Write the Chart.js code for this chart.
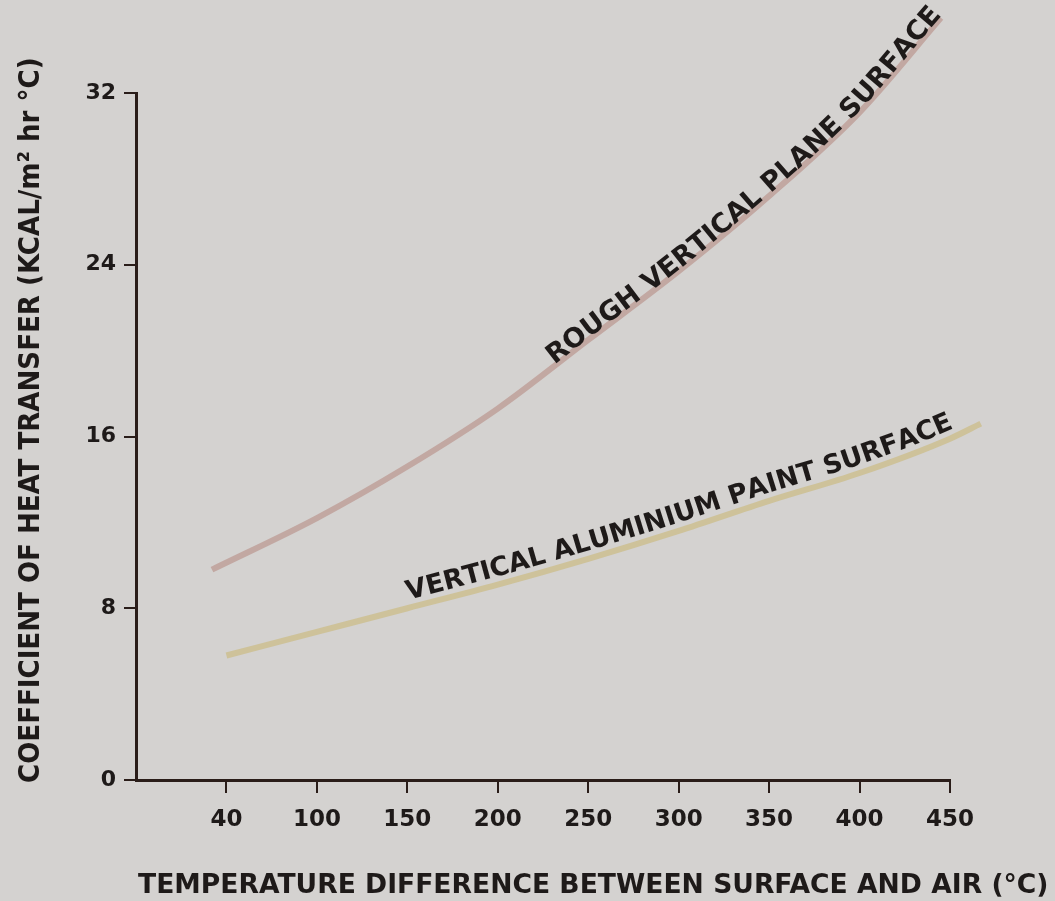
<!DOCTYPE html>
<html>
<head>
<meta charset="utf-8">
<script src="https://cdn.jsdelivr.net/npm/chart.js@4.4.1/dist/chart.umd.min.js"></script>
<style>
  html, body { margin: 0; padding: 0; background: #d4d2d0; }
  #wrap { width: 1055px; height: 901px; }
</style>
</head>
<body>
<div id="wrap"><canvas id="myChart"></canvas></div>
<script>
// values
const tickPos = [50, 100, 150, 200, 250, 300, 350, 400, 450];
const tickText = ['40', '100', '150', '200', '250', '300', '350', '400', '450'];

const roughX = [42, 100, 150, 200, 250, 300, 350, 400, 445];
const roughY = [9.8, 12.2, 14.6, 17.3, 20.5, 23.7, 27.2, 31.1, 35.5];

const aluX = [50, 100, 150, 200, 250, 300, 350, 400, 450, 467];
const aluY = [5.8, 6.9, 8.0, 9.1, 10.3, 11.6, 13.0, 14.3, 15.9, 16.6];

const roughLabel = 'ROUGH VERTICAL PLANE SURFACE';
const aluLabel = 'VERTICAL ALUMINIUM PAINT SURFACE';

const xTitle = 'TEMPERATURE DIFFERENCE BETWEEN SURFACE AND AIR (°C)';
const yTitle = 'COEFFICIENT OF HEAT TRANSFER (KCAL/m² hr °C)';

const ink = '#1e1a19';
const axisInk = '#2a1d19';

const toPoints = (xs, ys) => xs.map((x, i) => ({ x: x, y: ys[i] }));

// paper colour behind everything
const paper = {
    id: 'paper',
    beforeDraw(chart) {
        const c = chart.ctx;
        c.save();
        c.fillStyle = '#d4d2d0';
        c.fillRect(0, 0, chart.width, chart.height);
        c.restore();
    }
};

// sample the drawn curve (bezier segments) into a polyline
function curvePath(meta) {
    const pts = meta.data;
    const out = [];
    for (let i = 0; i < pts.length - 1; i++) {
        const a = pts[i], b = pts[i + 1];
        const c1x = a.cp2x !== undefined ? a.cp2x : a.x;
        const c1y = a.cp2y !== undefined ? a.cp2y : a.y;
        const c2x = b.cp1x !== undefined ? b.cp1x : b.x;
        const c2y = b.cp1y !== undefined ? b.cp1y : b.y;
        for (let k = 0; k < 30; k++) {
            const t = k / 30, u = 1 - t;
            out.push({
                x: u*u*u*a.x + 3*u*u*t*c1x + 3*u*t*t*c2x + t*t*t*b.x,
                y: u*u*u*a.y + 3*u*u*t*c1y + 3*u*t*t*c2y + t*t*t*b.y
            });
        }
    }
    const last = pts[pts.length - 1];
    out.push({ x: last.x, y: last.y });
    return out;
}

// write a label along its curve
const curveText = {
    id: 'curveText',
    afterDatasetsDraw(chart) {
        const c = chart.ctx;
        const xs = chart.scales.x;
        chart.data.datasets.forEach((ds, di) => {
            if (!ds.curveLabel) return;
            const path = curvePath(chart.getDatasetMeta(di));
            const acc = [0];
            for (let i = 1; i < path.length; i++) {
                acc.push(acc[i - 1] + Math.hypot(path[i].x - path[i - 1].x, path[i].y - path[i - 1].y));
            }
            const startPx = xs.getPixelForValue(ds.curveLabel.from);
            let s = 0;
            for (let i = 0; i < path.length; i++) { if (path[i].x >= startPx) { s = acc[i]; break; } }

            const at = (d) => {
                let i = 1;
                while (i < path.length - 1 && acc[i] < d) i++;
                const p0 = path[i - 1], p1 = path[i];
                const seg = acc[i] - acc[i - 1] || 1;
                const t = (d - acc[i - 1]) / seg;
                return { x: p0.x + (p1.x - p0.x) * t, y: p0.y + (p1.y - p0.y) * t,
                         a: Math.atan2(p1.y - p0.y, p1.x - p0.x) };
            };

            c.save();
            c.font = ds.curveLabel.font;
            c.fillStyle = ink;
            c.textAlign = 'center';
            c.textBaseline = 'alphabetic';
            for (const ch of ds.curveLabel.text) {
                const w = c.measureText(ch).width + ds.curveLabel.spacing;
                const p = at(s + w / 2);
                c.save();
                c.translate(p.x, p.y);
                c.rotate(p.a);
                c.fillText(ch, 0, -ds.curveLabel.offset);
                c.restore();
                s += w;
            }
            c.restore();
        });
    }
};

// axis titles, left-aligned to the axes like the original
const axisTitles = {
    id: 'axisTitles',
    afterDraw(chart) {
        const c = chart.ctx;
        const area = chart.chartArea;
        c.save();
        c.fillStyle = ink;
        c.textBaseline = 'middle';
        c.textAlign = 'left';
        c.font = 'bold 26.6px "DejaVu Sans"';
        c.fillText(xTitle, area.left + 2, 886);
        c.translate(31, area.bottom + 3);
        c.rotate(-Math.PI / 2);
        c.font = 'bold 29px "DejaVu Sans Condensed", "DejaVu Sans"';
        c.fillText(yTitle, 0, 0);
        c.restore();
    }
};

const ctx = document.getElementById('myChart').getContext('2d');

const data = {
    datasets: [{
        label: roughLabel,
        data: toPoints(roughX, roughY),
        borderColor: 'rgba(186, 150, 142, 0.7)',
        borderWidth: 6,
        cubicInterpolationMode: 'monotone',
        pointRadius: 0,
        clip: false,
        curveLabel: { text: roughLabel, from: 231, offset: 1, spacing: 0, font: 'bold 27px "DejaVu Sans"' }
    }, {
        label: aluLabel,
        data: toPoints(aluX, aluY),
        borderColor: 'rgba(204, 190, 140, 0.8)',
        borderWidth: 6,
        cubicInterpolationMode: 'monotone',
        pointRadius: 0,
        clip: false,
        curveLabel: { text: aluLabel, from: 151, offset: 8, spacing: 0, font: 'bold 26.5px "DejaVu Sans"' }
    }]
};

const config = {
    type: 'line',
    data: data,
    options: {
        responsive: true,
        maintainAspectRatio: false,
        animation: false,
        layout: { padding: { top: 93, right: 105, left: 0, bottom: 0 } },
        plugins: {
            legend: { display: false },
            tooltip: { enabled: false }
        },
        scales: {
            x: {
                type: 'linear',
                // bounds set here (not min/max) so the curve may run past 450 like the original
                afterDataLimits: (scale) => { scale.min = 0; scale.max = 450; },
                afterBuildTicks: (scale) => { scale.ticks = tickPos.map(v => ({ value: v })); },
                afterFit: (scale) => { scale.height = 121; },
                ticks: {
                    callback: (v) => tickText[tickPos.indexOf(v)],
                    color: ink,
                    padding: 13,
                    maxRotation: 0,
                    font: { family: 'DejaVu Sans', weight: 'bold', size: 23 }
                },
                grid: { drawOnChartArea: false, drawTicks: true, tickLength: 13, color: axisInk, lineWidth: 2 },
                border: { display: true, color: axisInk, width: 3 }
            },
            y: {
                min: 0,
                max: 32,
                afterFit: (scale) => { scale.width = 136; },
                ticks: {
                    stepSize: 8,
                    color: ink,
                    padding: 8,
                    font: { family: 'DejaVu Sans', weight: 'bold', size: 22 }
                },
                grid: { drawOnChartArea: false, drawTicks: true, tickLength: 12, color: axisInk, lineWidth: 2 },
                border: { display: true, color: axisInk, width: 3 }
            }
        }
    },
    plugins: [paper, curveText, axisTitles]
};

const myChart = new Chart(ctx, config);
</script>
</body>
</html>
